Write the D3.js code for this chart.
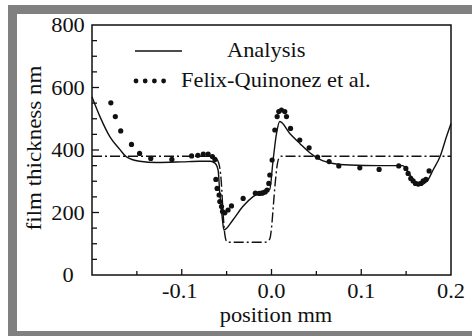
<!DOCTYPE html>
<html><head><meta charset="utf-8">
<script src="https://cdn.jsdelivr.net/npm/d3@7"></script>
<style>html,body{margin:0;padding:0;background:#fff;}svg{display:block;}</style>
</head><body>
<script>
const W = 472, H = 336;
const xTicks = [-0.1, 0.0, 0.1, 0.2];
const xTickLabels = ["-0.1", "0.0", "0.1", "0.2"];
const xMinorTicks = [-0.15, -0.05, 0.05, 0.15];
const yTicks = [0, 200, 400, 600, 800];
const yMinorTicks = [50, 100, 150, 250, 300, 350, 450, 500, 550, 650, 700, 750];
const seriesNames = ["Analysis", "Felix-Quinonez et al."];
const analysisX = [-0.2,-0.191,-0.18,-0.169,-0.162,-0.147,-0.128,-0.1,-0.08,-0.068,-0.063,-0.0595,-0.0576,-0.055,-0.053,-0.043,-0.032,-0.0205,-0.0094,-0.002,0.0018,0.0056,0.0092,0.0204,0.0315,0.0427,0.0538,0.0686,0.087,0.12,0.146,0.152,0.158,0.1635,0.173,0.18,0.1878,0.195,0.2];
const analysisY = [570,506,442,402,379,364,360,362,364,364,358,336,261,187,144,176,219,251,267,274,368,453,491,453,421,391,370,357,352,350,350,331,304,286,299,336,379,443,485];
const stepX = [-0.2,-0.07,-0.063,-0.059,-0.056,-0.054,-0.052,-0.05,-0.047,-0.007,-0.002,0.0,0.002,0.004,0.006,0.008,0.011,0.2];
const stepY = [380,380,376,360,300,200,130,108,105,105,115,150,220,290,345,372,380,380];
const dotsX = [-0.179,-0.174,-0.168,-0.156,-0.147,-0.1345,-0.111,-0.089,-0.082,-0.076,-0.0706,-0.0658,-0.063,-0.062,-0.0606,-0.0584,-0.0576,-0.0557,-0.0546,-0.052,-0.0484,-0.0446,-0.0316,-0.018,-0.0138,-0.011,-0.0094,-0.007,-0.0049,-0.003,-0.0019,0.0007,0.0037,0.0063,0.0081,0.0111,0.0148,0.0167,0.0212,0.0315,0.0419,0.0513,0.0642,0.075,0.0984,0.1199,0.1418,0.1497,0.1522,0.1552,0.1578,0.1604,0.1634,0.1664,0.169,0.172,0.1756];
const dotsY = [551,507,461,418,389,373,370,381,383,387,387,379,370,306,277,256,235,219,203,199,208,221,245,262,261,262,263,266,272,293,320,368,464,507,523,528,523,507,469,432,407,377,363,349,343,338,349,341,325,309,301,293,291,293,301,306,333];

const svg = d3.select("body").append("svg").attr("width", W).attr("height", H);
svg.append("rect").attr("width", W).attr("height", H).attr("fill", "#fff");
// gray frame
const gray = "#808080";
svg.append("rect").attr("x", 8).attr("y", 5).attr("width", W - 8).attr("height", 9).attr("fill", gray);
svg.append("rect").attr("x", 8).attr("y", 5).attr("width", 9).attr("height", H - 5).attr("fill", gray);
svg.append("rect").attr("x", 8).attr("y", 331).attr("width", W - 8).attr("height", 5).attr("fill", gray);

const x = d3.scaleLinear().domain([-0.2, 0.2]).range([92, 451]);
const y = d3.scaleLinear().domain([0, 800]).range([275, 25]);
const font = "'Liberation Serif', 'Times New Roman', serif";
const SX = 1.12;

function txt(px, py, s, anchor) {
  svg.append("text").attr("transform", `translate(${px},${py}) scale(${SX},1)`)
    .attr("text-anchor", anchor || "middle").attr("font-family", font)
    .attr("font-size", 20).attr("fill", "#111").text(s);
}

// data lines
const line = d3.line().x(d => x(d[0])).y(d => y(d[1])).curve(d3.curveMonotoneX);
svg.append("path").datum(stepX.map((v, i) => [v, stepY[i]]))
  .attr("d", line).attr("fill", "none").attr("stroke", "#111").attr("stroke-width", 1.4)
  .attr("stroke-dasharray", "10,3,2,3");
svg.append("path").datum(analysisX.map((v, i) => [v, analysisY[i]]))
  .attr("d", line).attr("fill", "none").attr("stroke", "#111").attr("stroke-width", 1.4);
svg.append("g").selectAll("circle").data(dotsX.map((v, i) => [v, dotsY[i]])).join("circle")
  .attr("cx", d => x(d[0])).attr("cy", d => y(d[1])).attr("r", 2.6).attr("fill", "#111");

// frame
svg.append("rect").attr("x", 92).attr("y", 25).attr("width", 359).attr("height", 250)
  .attr("fill", "none").attr("stroke", "#111").attr("stroke-width", 1.5);

// ticks
svg.append("g").selectAll("line").data(xTicks.slice(0, 3)).join("line")
  .attr("x1", d => x(d)).attr("x2", d => x(d)).attr("y1", 275).attr("y2", 269)
  .attr("stroke", "#111").attr("stroke-width", 1.3);
svg.append("g").selectAll("line").data(xMinorTicks).join("line")
  .attr("x1", d => x(d)).attr("x2", d => x(d)).attr("y1", 275).attr("y2", 271)
  .attr("stroke", "#111").attr("stroke-width", 1.3);
svg.append("g").selectAll("line").data(yTicks.slice(1, 4)).join("line")
  .attr("x1", 92).attr("x2", 99).attr("y1", d => y(d)).attr("y2", d => y(d))
  .attr("stroke", "#111").attr("stroke-width", 1.3);
svg.append("g").selectAll("line").data(yMinorTicks).join("line")
  .attr("x1", 92).attr("x2", 97).attr("y1", d => y(d)).attr("y2", d => y(d))
  .attr("stroke", "#111").attr("stroke-width", 1.3);

// tick labels
xTicks.forEach((v, i) => txt(x(v) - (xTickLabels[i][0] === "-" ? 2 : 0), 298, xTickLabels[i]));
yTicks.forEach(v => txt(68, y(v) + 7, String(v)));

// axis titles
txt(276, 322, "position mm");
svg.append("text").attr("transform", `translate(41,148) rotate(-90) scale(1.15,1)`)
  .attr("text-anchor", "middle").attr("font-family", font).attr("font-size", 20)
  .attr("fill", "#111").text("film thickness nm");

// legend
svg.append("line").attr("x1", 135).attr("x2", 182).attr("y1", 51).attr("y2", 51)
  .attr("stroke", "#111").attr("stroke-width", 1.4);
txt(227, 57, seriesNames[0], "start");
svg.append("g").selectAll("circle").data([0, 1, 2, 3]).join("circle")
  .attr("cx", d => 136 + d * 9.2).attr("cy", 81).attr("r", 2.4).attr("fill", "#111");
txt(181, 87, seriesNames[1], "start");
</script>
</body></html>
